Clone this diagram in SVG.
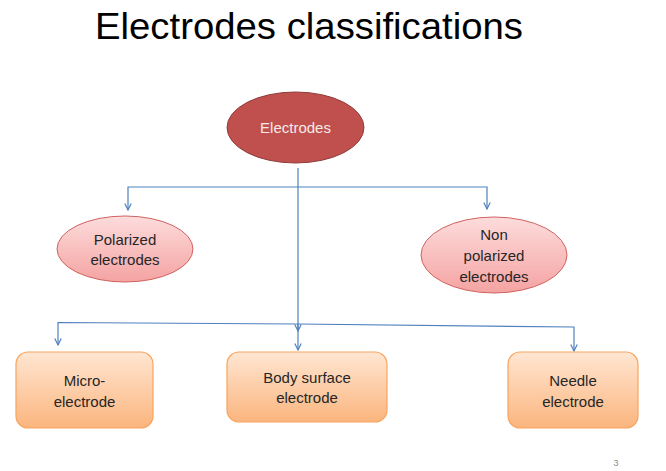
<svg xmlns="http://www.w3.org/2000/svg" width="666" height="471" viewBox="0 0 666 471">
<style>
.t{font-family:"Liberation Sans",Arial,sans-serif;font-size:15px;fill:#262626;text-anchor:middle}
.w{fill:#F5EAEA}
.c{fill:none;stroke:#4F81BD;stroke-width:1.2}
.pink{fill:url(#gp);stroke:#D0625F;stroke-width:1}
.box{fill:url(#go);stroke:#F8A45E;stroke-width:1.2}
</style>
<defs>
<linearGradient id="gp" x1="0" y1="0" x2="0" y2="1">
<stop offset="0" stop-color="#FDDCDC"/>
<stop offset="1" stop-color="#F4A3A2"/>
</linearGradient>
<linearGradient id="go" x1="0" y1="0" x2="0" y2="1">
<stop offset="0" stop-color="#FFE6D2"/>
<stop offset="1" stop-color="#FBB57E"/>
</linearGradient>
<marker id="ar" viewBox="0 0 10 10" refX="9" refY="5" markerWidth="8" markerHeight="8" markerUnits="userSpaceOnUse" orient="auto">
<polyline points="1,1 9,5 1,9" fill="none" stroke="#4F81BD" stroke-width="1.5"/>
</marker>
</defs>
<rect width="666" height="471" fill="#FFFFFF"/>
<text x="309" y="39" font-family="Liberation Sans,Arial,sans-serif" font-size="36" fill="#000" text-anchor="middle" textLength="428" lengthAdjust="spacingAndGlyphs">Electrodes classifications</text>
<g id="connectors">
<path class="c" d="M298,168 V331" marker-end="url(#ar)"/>
<path class="c" d="M298,187 H128 V210" marker-end="url(#ar)"/>
<path class="c" d="M298,187 H487 V209" marker-end="url(#ar)"/>
<path class="c" d="M298,324 L58,322.5 V345" marker-end="url(#ar)"/>
<path class="c" d="M298,324 V350" marker-end="url(#ar)"/>
<path class="c" d="M298,324 L574,327 V351" marker-end="url(#ar)"/>
</g>
<g id="electrodes">
<ellipse cx="295.5" cy="127.5" rx="68.5" ry="35.5" fill="#C0504D" stroke="#8E3B39" stroke-width="1"/>
<text class="t w" x="295.5" y="133">Electrodes</text>
</g>
<g id="polarized">
<ellipse class="pink" cx="125" cy="249" rx="68" ry="33"/>
<text class="t" x="125" y="245">Polarized</text>
<text class="t" x="125" y="265">electrodes</text>
</g>
<g id="nonpolarized">
<ellipse class="pink" cx="494" cy="255" rx="73" ry="38"/>
<text class="t" x="494" y="240">Non</text>
<text class="t" x="494" y="261">polarized</text>
<text class="t" x="494" y="282">electrodes</text>
</g>
<g id="micro">
<rect class="box" x="16" y="352" width="137" height="76" rx="12"/>
<text class="t" x="84.5" y="386">Micro-</text>
<text class="t" x="84.5" y="407">electrode</text>
</g>
<g id="body">
<rect class="box" x="227" y="352" width="160" height="70" rx="12"/>
<text class="t" x="307" y="383">Body surface</text>
<text class="t" x="307" y="403">electrode</text>
</g>
<g id="needle">
<rect class="box" x="508" y="352" width="130" height="76" rx="12"/>
<text class="t" x="573" y="386">Needle</text>
<text class="t" x="573" y="407">electrode</text>
</g>
<text x="616" y="466" font-family="Liberation Sans,Arial,sans-serif" font-size="9" fill="#8C8C8C" text-anchor="middle">3</text>
</svg>
